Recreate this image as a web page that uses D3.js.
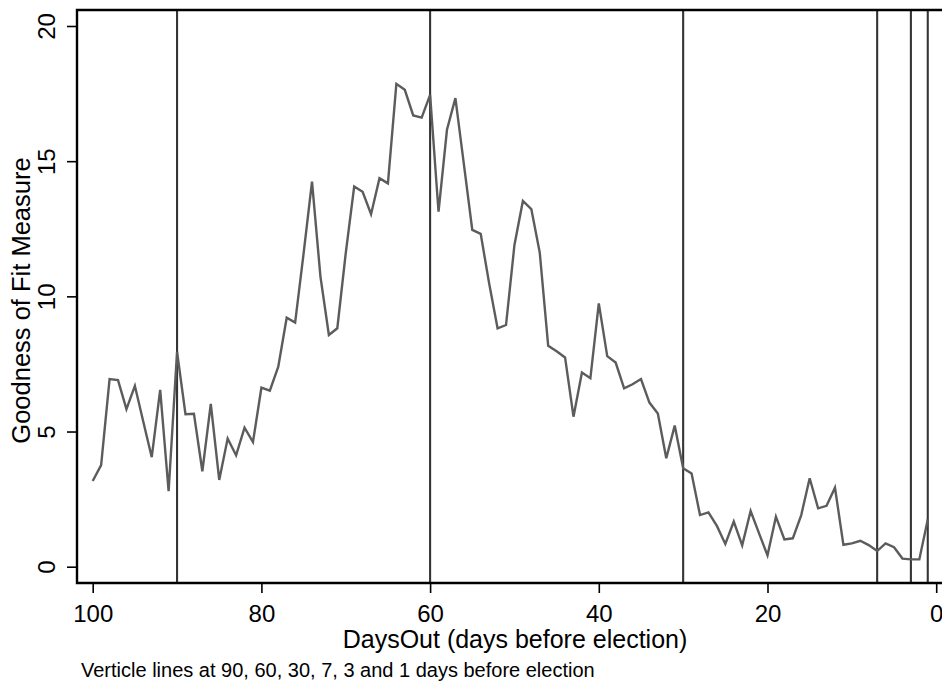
<!DOCTYPE html>
<html>
<head>
<meta charset="utf-8">
<script src="https://cdn.jsdelivr.net/npm/d3@7"></script>
<style>
  html, body { margin: 0; padding: 0; background: #fff; }
  svg { display: block; font-family: "Liberation Sans", Arial, sans-serif; }
</style>
</head>
<body>
<svg id="chart" width="942" height="681"></svg>
<script>
// Days before the election, 100 down to 1
const daysOut = d3.range(100, 0, -1);

// Goodness of fit measure for each day, in the same order as daysOut
const fitValues = [
  3.17, 3.76, 6.94, 6.90, 5.83, 6.69, 5.36, 4.05, 6.54, 2.79,
  7.95, 5.64, 5.66, 3.53, 6.02, 3.21, 4.74, 4.12, 5.14, 4.61,
  6.62, 6.51, 7.40, 9.21, 9.03, 11.58, 14.24, 10.73, 8.57, 8.82,
  11.60, 14.06, 13.87, 13.04, 14.37, 14.18, 17.86, 17.64, 16.69, 16.61,
  17.45, 13.13, 16.16, 17.33, 14.90, 12.46, 12.31, 10.48, 8.82, 8.94,
  11.90, 13.53, 13.23, 11.62, 8.17, 7.97, 7.74, 5.55, 7.18, 6.97,
  9.74, 7.79, 7.55, 6.60, 6.75, 6.94, 6.07, 5.67, 4.01, 5.22,
  3.64, 3.45, 1.91, 2.01, 1.51, 0.84, 1.67, 0.79, 2.06, 1.23,
  0.42, 1.85, 1.01, 1.05, 1.91, 3.27, 2.16, 2.25, 2.92, 0.81,
  0.86, 0.96, 0.80, 0.58, 0.86, 0.72, 0.30, 0.27, 0.27, 1.75
];

// Reference days marked with vertical lines
const markerDays = [90, 60, 30, 7, 3, 1];

const xTicks = [100, 80, 60, 40, 20, 0];
const yTicks = [0, 5, 10, 15, 20];

const xTitle = "DaysOut (days before election)";
const yTitle = "Goodness of Fit Measure";
const note = "Verticle lines at 90, 60, 30, 7, 3 and 1 days before election";

const svg = d3.select("#chart");

// Plot frame edges
const frame = { left: 77, top: 10, right: 946, bottom: 583 };

const x = d3.scaleLinear().domain([100, 0]).range([92.7, 936.2]);
const y = d3.scaleLinear().domain([0, 20]).range([566.7, 26]);

// Vertical marker lines
svg.append("g")
  .selectAll("line")
  .data(markerDays)
  .join("line")
  .attr("x1", d => x(d)).attr("x2", d => x(d))
  .attr("y1", frame.top).attr("y2", frame.bottom)
  .attr("stroke", "#353535")
  .attr("stroke-width", 2.1);

// Data line
const series = daysOut.map((d, i) => ({ day: d, value: fitValues[i] }));
svg.append("path")
  .datum(series)
  .attr("fill", "none")
  .attr("stroke", "#5c5c5c")
  .attr("stroke-width", 2.4)
  .attr("stroke-linejoin", "miter")
  .attr("d", d3.line().x(d => x(d.day)).y(d => y(d.value)));

// Frame (left, top, bottom)
svg.append("path")
  .attr("fill", "none")
  .attr("stroke", "#000")
  .attr("stroke-width", 2.4)
  .attr("d", `M${frame.right},${frame.top}H${frame.left}V${frame.bottom}H${frame.right}`);

// X axis
const xAxis = d3.axisBottom(x)
  .tickValues(xTicks)
  .tickSize(10)
  .tickPadding(12)
  .tickFormat(d3.format("d"));
const gx = svg.append("g")
  .attr("transform", `translate(0,${frame.bottom})`)
  .call(xAxis);
gx.select(".domain").remove();
gx.selectAll(".tick line").attr("stroke", "#000").attr("stroke-width", 1.6);
gx.selectAll(".tick text")
  .attr("fill", "#000")
  .attr("font-size", 24)
  .attr("dy", null)
  .attr("y", 39);

// Y axis with rotated labels
const yAxis = d3.axisLeft(y)
  .tickValues(yTicks)
  .tickSize(10)
  .tickFormat(d3.format("d"));
const gy = svg.append("g")
  .attr("transform", `translate(${frame.left},0)`)
  .call(yAxis);
gy.select(".domain").remove();
gy.selectAll(".tick line").attr("stroke", "#000").attr("stroke-width", 1.6);
gy.selectAll(".tick text")
  .attr("fill", "#000")
  .attr("font-size", 24)
  .attr("x", null)
  .attr("dy", null)
  .attr("text-anchor", "middle")
  .attr("transform", "translate(-22,0) rotate(-90)");

// Axis titles
svg.append("text")
  .attr("x", 515)
  .attr("y", 648)
  .attr("text-anchor", "middle")
  .attr("font-size", 25)
  .attr("fill", "#000")
  .text(xTitle);

svg.append("text")
  .attr("transform", `translate(30,${(frame.top + frame.bottom) / 2 + 4}) rotate(-90)`)
  .attr("text-anchor", "middle")
  .attr("font-size", 25.5)
  .attr("fill", "#000")
  .text(yTitle);

// Note below the chart
svg.append("text")
  .attr("x", 81)
  .attr("y", 676.5)
  .attr("font-size", 20)
  .attr("fill", "#000")
  .text(note);
</script>
</body>
</html>
